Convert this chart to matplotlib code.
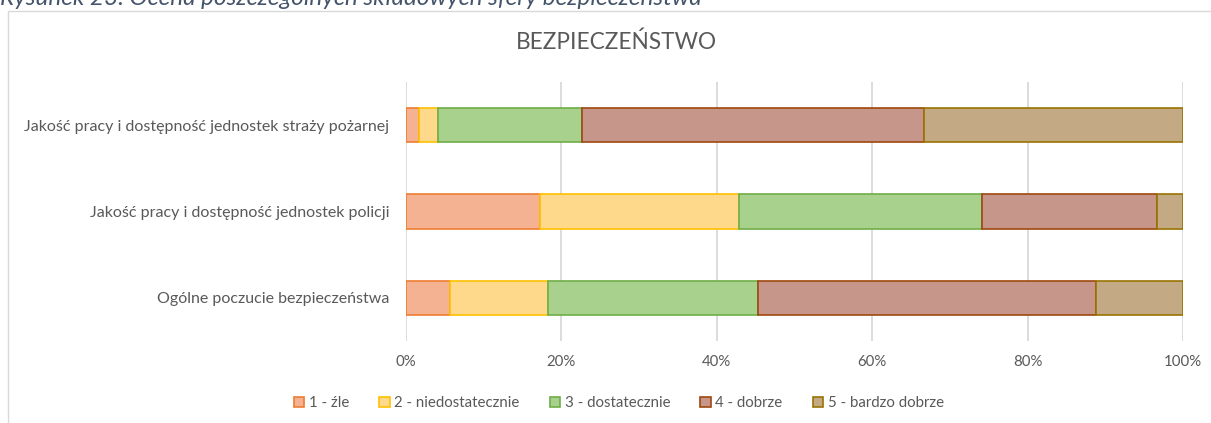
import matplotlib.pyplot as plt
from matplotlib.patches import Rectangle, Patch

categories = ['Ogólne poczucie bezpieczeństwa',
              'Jakość pracy i dostępność jednostek policji',
              'Jakość pracy i dostępność jednostek straży pożarnej']
series = ['1 - źle', '2 - niedostatecznie', '3 - dostatecznie', '4 - dobrze', '5 - bardzo dobrze']
values = [
    [5.7, 17.2, 1.7],
    [12.6, 25.6, 2.4],
    [27.0, 31.3, 18.5],
    [43.5, 22.5, 44.1],
    [11.2, 3.4, 33.3],
]
ticks = [0, 20, 40, 60, 80, 100]
tick_labels = ['0%', '20%', '40%', '60%', '80%', '100%']

faces = ['#F5B293', '#FED88B', '#A9D18E', '#C7968A', '#C3AA84']
edges = ['#ED7D31', '#FFC000', '#70AD47', '#9E480E', '#997300']
grey = '#595959'

plt.rcParams['font.family'] = ['Lato', 'DejaVu Sans']

fig = plt.figure(figsize=(12.11, 4.23), dpi=100)
ax = fig.add_axes([0.3353, 0.1939, 0.6416, 0.6122])

y = list(range(len(categories)))
left = [0] * len(categories)
for vals, name, fc, ec in zip(values, series, faces, edges):
    ax.barh(y, vals, left=left, height=0.4, color=fc, edgecolor=ec,
            linewidth=1.2, label=name, zorder=3)
    left = [l + v for l, v in zip(left, vals)]

ax.set_xlim(0, 100)
ax.set_ylim(-0.5, 2.5)
ax.set_xticks(ticks)
ax.set_xticklabels(tick_labels, color=grey, fontsize=10.8)
ax.set_yticks(y)
ax.set_yticklabels(categories, color=grey, fontsize=11.5)
ax.tick_params(length=0, pad=12)
ax.tick_params(axis='x', pad=10)
ax.grid(axis='x', color='#D9D9D9', linewidth=1.3, zorder=0)
for s in ax.spines.values():
    s.set_visible(False)

fig.text(0.509, 0.899, 'BEZPIECZEŃSTWO', ha='center', va='center',
         fontsize=16.3, color=grey)

handles = [Patch(facecolor=fc, edgecolor=ec, linewidth=1.2) for fc, ec in zip(faces, edges)]
fig.legend(handles, series, loc='center', bbox_to_anchor=(0.511, 0.047), ncol=5,
           frameon=False, fontsize=10.8, labelcolor=grey, handlelength=0.7,
           handleheight=0.7, handletextpad=0.3, columnspacing=2.0)

fig.patches.append(Rectangle((0.0066, -0.1), 1.1, 1.075, transform=fig.transFigure,
                             fill=False, edgecolor='#D9D9D9', linewidth=1.0))

fig.text(0.0, 0.988, 'Rysunek 23. Ocena poszczególnych składowych sfery bezpieczeństwa',
         ha='left', va='baseline', fontsize=17.5, style='italic', color='#44546A')

fig.savefig('out.png', dpi=100)
